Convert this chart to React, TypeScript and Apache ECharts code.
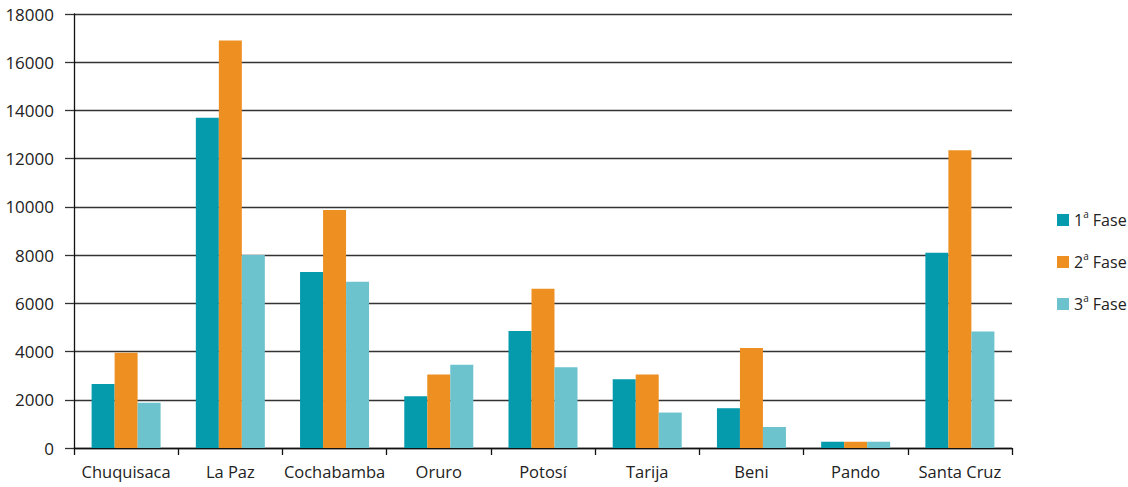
import React, { useEffect, useRef } from "react";
import * as echarts from "echarts";

const categories = ["Chuquisaca", "La Paz", "Cochabamba", "Oruro", "Potosí", "Tarija", "Beni", "Pando", "Santa Cruz"];
const fase1 = [2650, 13700, 7300, 2150, 4850, 2850, 1650, 260, 8100];
const fase2 = [3950, 16900, 9870, 3050, 6600, 3050, 4150, 260, 12350];
const fase3 = [1880, 8000, 6900, 3450, 3350, 1470, 870, 260, 4830];
const seriesNames = ["1ª Fase", "2ª Fase", "3ª Fase"];
const colors = ["#069aad", "#ee8f22", "#6cc2cd"];

const FONT = "'Open Sans', sans-serif";

export default function App() {
  const ref = useRef<HTMLDivElement>(null);
  useEffect(() => {
    if (!ref.current) return;
    const chart = echarts.init(ref.current, null, { renderer: "svg" });
    const data = [fase1, fase2, fase3];
    chart.setOption({
      animation: false,
      backgroundColor: "#ffffff",
      grid: { left: 74, right: 116, top: 14, bottom: 39, containLabel: false },
      legend: {
        orient: "vertical",
        left: 1052,
        top: 204,
        itemWidth: 12,
        itemHeight: 12,
        itemGap: 23,
        icon: "rect",
        data: seriesNames,
        formatter: (name: string) => `{n|${name[0]}}{s|a}{n| Fase}`,
        textStyle: {
          fontFamily: FONT,
          color: "#222",
          rich: {
            n: { fontFamily: FONT, fontSize: 16, color: "#222", lineHeight: 22 },
            s: { fontFamily: FONT, fontSize: 10, color: "#222", verticalAlign: "top", lineHeight: 12 },
          },
        },
      },
      xAxis: {
        type: "category",
        data: categories,
        boundaryGap: true,
        axisLine: { lineStyle: { color: "#111", width: 1.3 } },
        axisTick: { show: true, interval: 0, length: 7, inside: false, lineStyle: { color: "#111", width: 1.3 } },
        axisLabel: { interval: 0, fontFamily: FONT, fontSize: 16.5, color: "#222", margin: 15 },
      },
      yAxis: {
        type: "value",
        min: 0,
        max: 18000,
        interval: 2000,
        axisLine: { show: true, lineStyle: { color: "#111", width: 1.3 } },
        axisTick: { show: true, length: 9, lineStyle: { color: "#333", width: 1.3 } },
        axisLabel: { fontFamily: FONT, fontSize: 17, color: "#222", margin: 20, formatter: (v: number) => String(v) },
        splitLine: { show: true, lineStyle: { color: "#333", width: 1.3 } },
      },
      series: data.map((d, i) => ({
        name: seriesNames[i],
        type: "bar",
        data: d,
        barWidth: 23,
        barGap: "0%",
        itemStyle: { color: colors[i] },
      })),
    });
    return () => chart.dispose();
  }, []);
  return <div ref={ref} style={{ width: 1128, height: 487, position: "absolute", left: 0, top: 0 }} />;
}
